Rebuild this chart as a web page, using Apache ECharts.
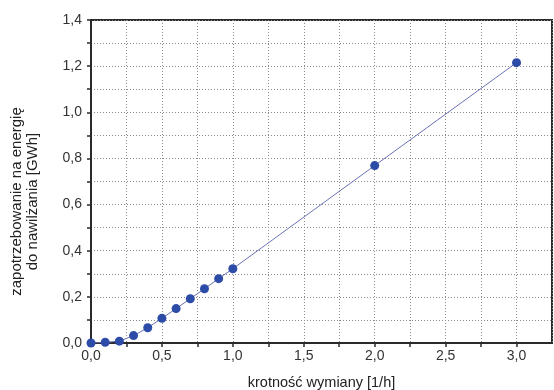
<!DOCTYPE html>
<html><head><meta charset="utf-8">
<script src="https://cdn.jsdelivr.net/npm/echarts@6/dist/echarts.min.js"></script>
<style>html,body{margin:0;padding:0;background:#fff}#c{width:554px;height:390px}</style>
</head><body><div id="c"></div>
<script>
const xValues = [0.0, 0.1, 0.2, 0.3, 0.4, 0.5, 0.6, 0.7, 0.8, 0.9, 1.0, 2.0, 3.0];
const yValues = [0.0, 0.003, 0.008, 0.032, 0.066, 0.107, 0.149, 0.192, 0.235, 0.279, 0.322, 0.769, 1.215];
const xTitle = 'krotność wymiany [1/h]';
const yTitle = 'zapotrzebowanie na energię\ndo nawilżania [GWh]';

const fmt = v => v.toFixed(1).replace('.', ',');
const chart = echarts.init(document.getElementById('c'), null, {renderer: 'canvas'});
const font = 'Liberation Sans, Arial, sans-serif';
const grid = {type: [1, 2], color: '#8a8a8a', width: 1};
chart.setOption({
  animation: false,
  grid: {left: 91, top: 20, right: 2, bottom: 47, show: true, borderColor: '#2a2a2a', borderWidth: 2,
    backgroundColor: 'transparent', containLabel: false, outerBoundsMode: 'none'},
  xAxis: {
    type: 'value', min: 0, max: 3.25, interval: 0.25,
    name: xTitle, nameLocation: 'middle', nameGap: 32,
    nameTextStyle: {fontFamily: font, fontSize: 14.5, color: '#222'},
    axisLine: {lineStyle: {color: '#2a2a2a', width: 2}},
    axisTick: {show: true, length: 4, lineStyle: {color: '#2a2a2a', width: 1.5}},
    axisLabel: {margin: 6, fontFamily: font, fontSize: 14, color: '#333',
      formatter: v => (Math.round(v * 4) % 2 === 0 && v <= 3.01) ? fmt(v) : '', showMaxLabel: false},
    splitLine: {show: true, lineStyle: grid}
  },
  yAxis: {
    type: 'value', min: 0, max: 1.4, interval: 0.1,
    name: yTitle, nameLocation: 'middle', nameGap: 50,
    nameTextStyle: {fontFamily: font, fontSize: 15, color: '#222', lineHeight: 16, padding: [0, 40, 0, 0]},
    axisLine: {lineStyle: {color: '#2a2a2a', width: 2}},
    axisTick: {show: true, length: 4, lineStyle: {color: '#2a2a2a', width: 1.5}},
    axisLabel: {margin: 9, fontFamily: font, fontSize: 14, color: '#333',
      formatter: v => (Math.round(v * 10) % 2 === 0) ? fmt(v) : ''},
    splitLine: {show: true, lineStyle: grid}
  },
  series: [{
    type: 'line',
    data: xValues.map((x, i) => [x, yValues[i]]),
    symbol: 'circle', symbolSize: 9,
    itemStyle: {color: '#2c4ca8'},
    lineStyle: {color: '#6a72b4', width: 1}
  }]
});
</script></body></html>
